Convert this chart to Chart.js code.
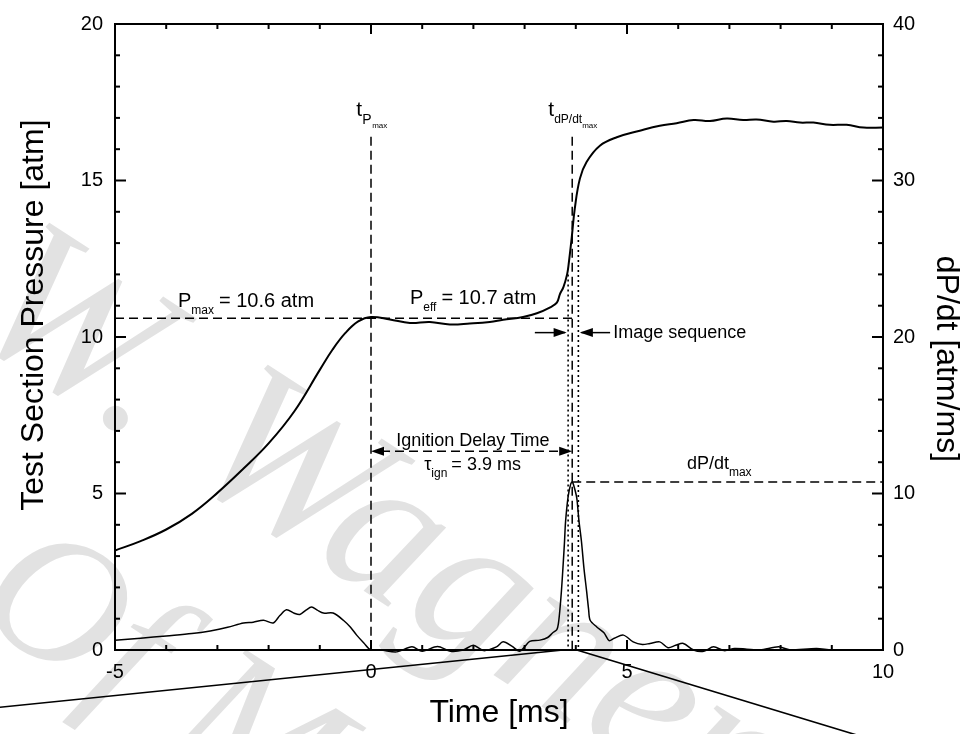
<!DOCTYPE html>
<html>
<head>
<meta charset="utf-8">
<script src="https://cdn.jsdelivr.net/npm/chart.js@4.4.0/dist/chart.umd.min.js"></script>
<style>
html,body{margin:0;padding:0;background:#fff;}
#wrap{width:973px;height:734px;position:relative;}
</style>
</head>
<body>
<div id="wrap"><canvas id="c" width="973" height="734"></canvas></div>
<script>
// ---- data ----
const pressureTime = [-5,-4.5,-4.0,-3.5,-3.0,-2.5,-2.0,-1.5,-1.0,-0.75,-0.5,-0.25,0,0.37,0.76,1.15,1.54,1.93,2.32,2.58,2.97,3.24,3.5,3.63,3.69,3.76,3.83,3.86,3.92,3.98,4.08,4.21,4.47,4.8,5.25,5.64,5.97,6.3,6.62,6.95,7.27,7.53,7.86,8.12,8.38,8.64,8.96,9.29,9.62,10.0];
const pressureValues = [3.18,3.48,3.85,4.35,5.02,5.78,6.6,7.62,8.95,9.6,10.13,10.5,10.64,10.56,10.45,10.48,10.40,10.43,10.48,10.55,10.64,10.76,10.95,11.1,11.37,11.6,12.0,12.32,13.17,14.1,15.06,15.59,16.11,16.38,16.59,16.75,16.83,16.93,16.9,16.98,16.93,16.95,16.88,16.9,16.85,16.85,16.78,16.78,16.69,16.69];

const rateTime = [-5,-4.5,-4.0,-3.5,-3.14,-2.8,-2.49,-2.3,-2.1,-1.91,-1.78,-1.65,-1.5,-1.39,-1.27,-1.16,-1.05,-0.93,-0.74,-0.54,-0.4,-0.28,-0.14,0,0.2,0.5,0.8,1.0,1.3,1.55,1.8,2.0,2.2,2.45,2.58,2.75,2.9,3.0,3.1,3.3,3.45,3.55,3.63,3.66,3.69,3.72,3.75,3.78,3.8,3.85,3.9,3.93,3.97,4.02,4.06,4.11,4.16,4.21,4.25,4.28,4.41,4.55,4.65,4.75,4.93,5.12,5.3,5.45,5.64,5.8,5.95,6.1,6.3,6.5,6.69,6.9,7.1,7.34,7.6,7.96,8.2,8.7,9.0,10.0];
const rateValues = [0.63,0.75,0.9,1.05,1.22,1.45,1.73,1.78,1.9,1.73,2.2,2.57,2.35,2.27,2.55,2.74,2.55,2.36,2.36,1.9,1.45,0.95,0.45,0,0.0,-0.12,0.2,-0.08,0.22,-0.08,0.0,0.3,-0.04,0.2,0.52,0.25,-0.08,0.2,0.55,0.63,0.8,1.1,1.3,1.69,2.6,3.8,5.3,6.95,8.2,9.8,10.6,10.74,10.4,9.69,8.3,6.95,5.2,3.79,2.6,1.9,1.47,1.1,0.6,0.75,0.95,0.52,0.35,0.42,0.52,0.15,0.3,0.42,0.0,-0.08,0.2,-0.04,0.1,0.05,0.0,0.2,0.0,0.1,0.0,0.0];

const xTickLabels = ['-5','0','5','10'];
const leftTickLabels = ['0','5','10','15','20'];
const rightTickLabels = ['0','10','20','30','40'];
const leftTitle = 'Test Section Pressure [atm]';
const rightTitle = 'dP/dt [atm/ms]';
const watermarkLines = ['W. Wagner', 'Of M'];

// annotation values (data units)
const tPmax = 0;          // ms
const tDpdtMax = 3.93;    // ms
const pMax = 10.6;        // atm
const dpdtMax = 10.74;    // atm/ms
const imageStart = 3.85;  // ms
const imageEnd = 4.05;    // ms
const ignitionDelay = 3.9; // ms

// zoom-indicator lines (data units, extend past the axes)
const zoomLeftX = [3.75, -8.0];
const zoomLeftY = [0, -1.955];
const zoomRightX = [4.02, 10.0];
const zoomRightY = [0, -2.97];

const FONT = "'Liberation Sans', Arial, Helvetica, sans-serif";
Chart.defaults.color = '#000';
Chart.defaults.font.family = FONT;

function pts(xs, ys){ return xs.map((v,i)=>({x:v, y:ys[i]})); }

function richText(ctx, x, y, parts){
  let cx = x;
  for (const p of parts){
    ctx.font = p.size + 'px ' + FONT;
    ctx.fillText(p.t, cx, y + (p.dy||0));
    cx += ctx.measureText(p.t).width + (p.gap||0);
  }
}
function arrowHead(ctx, tx, ty, dir){
  const L = 13, H = 4.5;
  ctx.beginPath();
  ctx.moveTo(tx, ty);
  ctx.lineTo(tx - dir*L, ty - H);
  ctx.lineTo(tx - dir*L, ty + H);
  ctx.closePath();
  ctx.fill();
}

const watermark = {
  id: 'watermark',
  beforeDraw(chart){
    const ctx = chart.ctx;
    ctx.save();
    ctx.fillStyle = '#e2e2e2';
    ctx.textBaseline = 'alphabetic'; ctx.textAlign = 'left';
    const ang = 33 * Math.PI / 180;
    const origins = [[-38, 330], [-30, 615]];
    const sizes = [210, 185];
    watermarkLines.forEach((t, i) => {
      ctx.save();
      ctx.font = "italic " + sizes[i] + "px 'Liberation Serif', 'DejaVu Serif', serif";
      ctx.translate(origins[i][0], origins[i][1]);
      ctx.rotate(ang);
      ctx.fillText(t, 0, 0);
      ctx.restore();
    });
    ctx.restore();
  }
};

const annot = {
  id: 'annot',
  afterDatasetsDraw(chart){
    const {ctx, chartArea:a, scales:{x, y, y2}} = chart;
    const X = v => x.getPixelForValue(v), Y = v => y.getPixelForValue(v), Y2 = v => y2.getPixelForValue(v);
    const seg = (x1,y1,x2,y2_) => { ctx.beginPath(); ctx.moveTo(x1,y1); ctx.lineTo(x2,y2_); ctx.stroke(); };
    ctx.save();
    ctx.strokeStyle = '#000'; ctx.fillStyle = '#000';

    // zoom indicator lines (outside plot)
    ctx.lineWidth = 1.6; ctx.setLineDash([]);
    seg(X(zoomLeftX[0]), Y(zoomLeftY[0]), X(zoomLeftX[1]), Y(zoomLeftY[1]));
    seg(X(zoomRightX[0]), Y(zoomRightY[0]), X(zoomRightX[1]), Y(zoomRightY[1]));

    // dashed reference lines
    ctx.lineWidth = 1.5; ctx.setLineDash([9,5]);
    seg(X(-5), Y(pMax), X(tDpdtMax), Y(pMax));
    seg(X(tPmax), Y(16.4), X(tPmax), Y(0));
    seg(X(tDpdtMax), Y(16.4), X(tDpdtMax), Y(0));
    seg(X(tDpdtMax), Y2(dpdtMax), X(10), Y2(dpdtMax));
    // ignition delay arrow
    seg(X(tPmax)+10, Y(6.35), X(tDpdtMax)-10, Y(6.35));
    ctx.setLineDash([]);
    arrowHead(ctx, X(tPmax), Y(6.35), -1);
    arrowHead(ctx, X(tDpdtMax), Y(6.35), 1);

    // dotted image-sequence bounds
    ctx.lineWidth = 1.6; ctx.setLineDash([2,3]);
    seg(X(imageStart), Y(12.0), X(imageStart), Y(0));
    seg(X(imageEnd), Y(13.9), X(imageEnd), Y(0));
    ctx.setLineDash([]);

    // image sequence arrows
    ctx.lineWidth = 1.5;
    seg(X(3.2), Y(10.14), X(imageStart)-3, Y(10.14));
    arrowHead(ctx, X(imageStart)-1.5, Y(10.14), 1);
    seg(X(4.67), Y(10.14), X(imageEnd)+3, Y(10.14));
    arrowHead(ctx, X(imageEnd)+1.5, Y(10.14), -1);

    // texts
    ctx.textBaseline = 'alphabetic'; ctx.textAlign = 'left';
    richText(ctx, X(-3.77), Y(10.96), [{t:'P',size:20},{t:'max',size:12,dy:7,gap:5},{t:'= 10.6 atm',size:20}]);
    richText(ctx, X(0.76), Y(11.06), [{t:'P',size:20},{t:'eff',size:12,dy:7,gap:5},{t:'= 10.7 atm',size:20}]);
    richText(ctx, X(4.73), Y(9.98), [{t:'Image sequence',size:18}]);
    ctx.textAlign = 'center';
    ctx.font = '18px ' + FONT;
    ctx.fillText('Ignition Delay Time', X(1.99), Y(6.53));
    ctx.textAlign = 'left';
    richText(ctx, X(1.04), Y(5.75), [{t:'\u03c4',size:18},{t:'ign',size:12,dy:7,gap:4},{t:'= ' + ignitionDelay.toFixed(1) + ' ms',size:18}]);
    richText(ctx, X(6.17), Y(5.78), [{t:'dP/dt',size:18},{t:'max',size:12,dy:7}]);
    // t labels
    ctx.font = '21px ' + FONT;
    ctx.fillText('t', X(-0.29), Y(17.06));
    richText(ctx, X(-0.29)+6, Y(17.06)+8, [{t:'P',size:14}]);
    richText(ctx, X(-0.29)+16, Y(17.06)+12, [{t:'max',size:8}]);
    ctx.font = '21px ' + FONT;
    ctx.fillText('t', X(3.46), Y(17.06));
    richText(ctx, X(3.46)+6, Y(17.06)+7, [{t:'dP/dt',size:12}]);
    richText(ctx, X(3.46)+34, Y(17.06)+12, [{t:'max',size:8}]);

    // axis titles (vertical)
    ctx.font = '32px ' + FONT; ctx.textAlign = 'center'; ctx.textBaseline = 'alphabetic';
    ctx.save(); ctx.translate(a.left - 72, Y(10.7)); ctx.rotate(-Math.PI/2); ctx.fillText(leftTitle, 0, 0); ctx.restore();
    ctx.save(); ctx.translate(a.right + 54, Y2(18.6)); ctx.rotate(Math.PI/2); ctx.fillText(rightTitle, 0, 0); ctx.restore();

    // frame
    ctx.lineWidth = 2;
    ctx.strokeRect(a.left, a.top, a.right - a.left, a.bottom - a.top);
    // inward ticks
    for (let v = -5; v <= 10; v++){
      const px = X(v), len = (v % 5 === 0) ? 10 : 5;
      seg(px, a.bottom, px, a.bottom - len);
      seg(px, a.top, px, a.top + len);
    }
    for (let v = 0; v <= 20; v++){
      const py = Y(v), len = (v % 5 === 0) ? 11 : 5;
      seg(a.left, py, a.left + len, py);
    }
    for (let v = 0; v <= 40; v += 2){
      const py = Y2(v), len = (v % 10 === 0) ? 11 : 5;
      seg(a.right, py, a.right - len, py);
    }
    ctx.restore();
  }
};

new Chart(document.getElementById('c'), {
  type: 'line',
  data: {
    datasets: [
      {label:'Pressure', data: pts(pressureTime, pressureValues), yAxisID:'y', borderColor:'#000', borderWidth:2, pointRadius:0, tension:0.4, fill:false},
      {label:'dP/dt', data: pts(rateTime, rateValues), yAxisID:'y2', borderColor:'#000', borderWidth:1.5, pointRadius:0, tension:0.3, fill:false, clip:false}
    ]
  },
  options: {
    responsive:false, animation:false, devicePixelRatio:1,
    layout:{padding:{top:17, left:0, right:0, bottom:0}},
    plugins:{legend:{display:false}, tooltip:{enabled:false}},
    scales:{
      x:{type:'linear', min:-5, max:10,
         ticks:{stepSize:5, padding:10, font:{size:20, family:FONT}, color:'#000', maxRotation:0,
                callback:(v)=>{const i=[-5,0,5,10].indexOf(v); return i>=0 ? xTickLabels[i] : '';}},
         grid:{display:false, drawTicks:false}, border:{display:false},
         title:{display:true, text:'Time [ms]', font:{size:32, family:FONT}, color:'#000', padding:{top:0,bottom:2}},
         afterFit:(s)=>{s.height = 84;}},
      y:{type:'linear', position:'left', min:0, max:20,
         ticks:{stepSize:5, padding:12, font:{size:20, family:FONT}, color:'#000',
                callback:(v)=>{const i=[0,5,10,15,20].indexOf(v); return i>=0 ? leftTickLabels[i] : '';}},
         grid:{display:false, drawTicks:false}, border:{display:false},
         title:{display:false},
         afterFit:(s)=>{s.width = 115;}},
      y2:{type:'linear', position:'right', min:0, max:40,
         ticks:{stepSize:10, padding:10, font:{size:20, family:FONT}, color:'#000',
                callback:(v)=>{const i=[0,10,20,30,40].indexOf(v); return i>=0 ? rightTickLabels[i] : '';}},
         grid:{display:false, drawTicks:false}, border:{display:false},
         title:{display:false},
         afterFit:(s)=>{s.width = 90;}}
    }
  },
  plugins:[watermark, annot]
});
</script>
</body>
</html>
